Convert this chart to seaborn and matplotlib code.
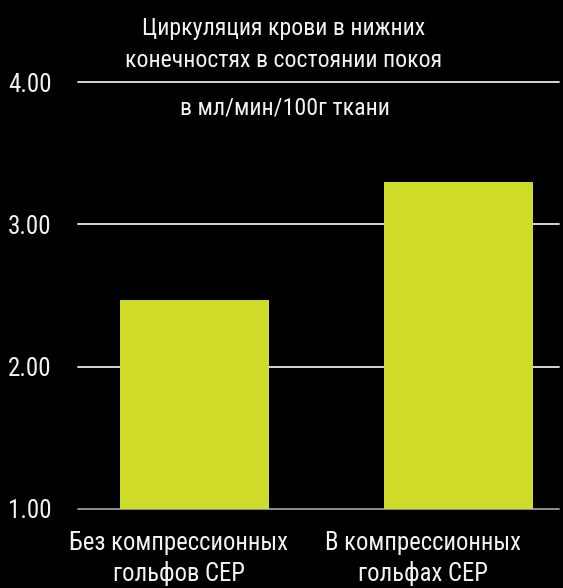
import matplotlib
matplotlib.use("Agg")
import matplotlib.pyplot as plt
from matplotlib import font_manager
import seaborn as sns
import pandas as pd

categories = ["Без компрессионных\nгольфов CEP", "В компрессионных\nгольфах CEP"]
values = [2.47, 3.30]
y_ticks = [1.0, 2.0, 3.0, 4.0]
title_lines = "Циркуляция крови в нижних\nконечностях в состоянии покоя"
unit_text = "в мл/мин/100г ткани"

sns.set_style("dark")

# pick a condensed face if there is one
available = set(f.name for f in font_manager.fontManager.ttflist)
candidates = ['Roboto Condensed', 'PT Sans Narrow', 'Archivo Narrow',
              'Liberation Sans Narrow', 'Roboto']
font = next((c for c in candidates if c in available), 'DejaVu Sans')
plt.rcParams['font.family'] = [font, 'DejaVu Sans']

bar_color = "#cedc29"
text_color = "#f2f2f2"

df = pd.DataFrame({"cat": categories, "val": values})

fig = plt.figure(figsize=(5.63, 5.88), dpi=100, facecolor="black")
ax = fig.add_axes([0.1385, 0.1344, 0.8544, 0.7261])
ax.set_facecolor("black")

sns.barplot(data=df, x="cat", y="val", color=bar_color, saturation=1,
            width=0.564, ax=ax, zorder=3, linewidth=0, edgecolor="none")

ax.set_ylim(1, 4)
ax.set_xlim(-0.441, 1.381)
ax.set_yticks(y_ticks)
ax.set_yticklabels([f"{t:.2f}" for t in y_ticks])

# horizontal grid lines
for t in y_ticks:
    c = "#999999" if t == y_ticks[0] else "#e6e6e6"
    ax.axhline(t, color=c, lw=1.3, zorder=1, clip_on=False)

for s in ax.spines.values():
    s.set_visible(False)
ax.grid(False)

ax.tick_params(axis="y", length=0, pad=19, labelsize=18, labelcolor=text_color)
ax.tick_params(axis="x", length=0, pad=16, labelsize=17.8, labelcolor=text_color)

# category labels sit a bit left of the bar centres
ax.set_xticks([-0.06, 0.864])
ax.set_xticklabels(categories, linespacing=1.3)
ax.set_xlabel("")
ax.set_ylabel("")

fig.text(0.503, 0.925, title_lines, ha="center", va="center",
         fontsize=17.2, color=text_color, linespacing=1.5)
fig.text(0.506, 0.816, unit_text, ha="center", va="center",
         fontsize=17.2, color=text_color)

fig.savefig("out.png", dpi=100, facecolor="black")
